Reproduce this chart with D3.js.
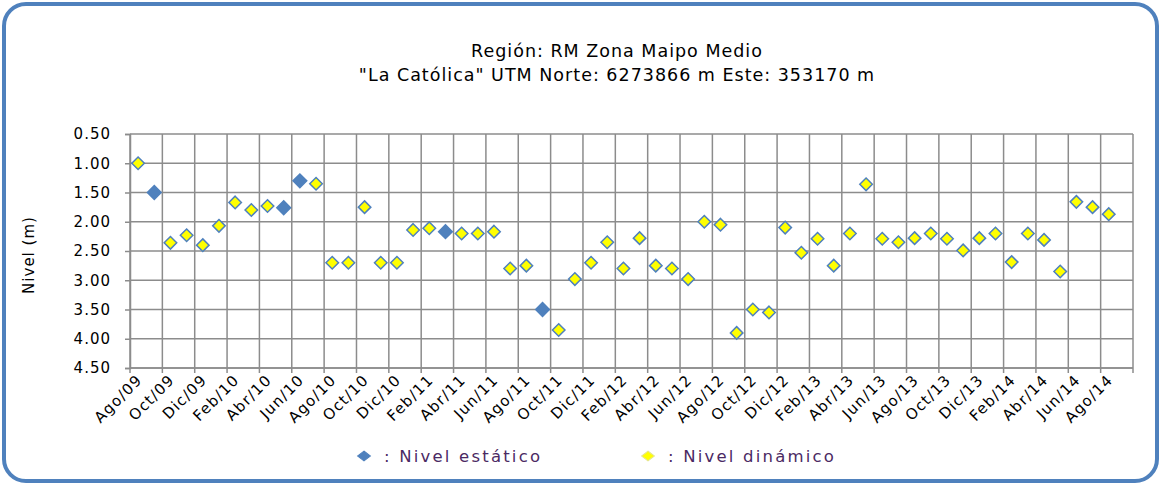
<!DOCTYPE html>
<html>
<head>
<meta charset="utf-8">
<script src="https://cdn.jsdelivr.net/npm/d3@7"></script>
<style>
  html, body { margin: 0; padding: 0; background: #fff; }
  svg { display: block; font-family: "DejaVu Sans", Verdana, sans-serif; }
</style>
</head>
<body>
<svg id="chart" width="1161" height="485"></svg>
<script>
// Monthly categories, Aug 2009 – Sep 2014
const monthNames = ["Ene","Feb","Mar","Abr","May","Jun","Jul","Ago","Sep","Oct","Nov","Dic"];
const months = [];
for (let y = 2009, m = 7; months.length < 62; ) {
  months.push(monthNames[m] + "/" + String(y).slice(2));
  m++; if (m === 12) { m = 0; y++; }
}

// Static level (m), one value per month, null where not measured
const nivelEstatico = [
  null, 1.50, null, null, null, null, null, null, null, 1.76,
  1.30, null, null, null, null, null, null, null, null, 2.17,
  null, null, null, null, null, 3.50, null, null, null, null,
  null, null, null, null, null, null, null, null, null, null,
  null, null, null, null, null, null, null, null, null, null,
  null, null, null, null, null, null, null, null, null, null,
  null, null
];

// Dynamic level (m), one value per month, null where not measured
const nivelDinamico = [
  1.00, null, 2.36, 2.23, 2.40, 2.07, 1.67, 1.80, 1.73, null,
  null, 1.35, 2.70, 2.70, 1.75, 2.70, 2.70, 2.14, 2.11, null,
  2.20, 2.20, 2.17, 2.80, 2.75, null, 3.85, 2.98, 2.70, 2.35,
  2.80, 2.28, 2.75, 2.80, 2.98, 2.00, 2.05, 3.90, 3.50, 3.55,
  2.10, 2.53, 2.29, 2.75, 2.20, 1.36, 2.29, 2.35, 2.28, 2.20,
  2.29, 2.49, 2.28, 2.20, 2.69, 2.20, 2.31, 2.85, 1.66, 1.75,
  1.87, null
];

const yTicks = [0.5, 1.0, 1.5, 2.0, 2.5, 3.0, 3.5, 4.0, 4.5];

const titleLines = [
  "Región: RM Zona Maipo Medio",
  "\"La Católica\" UTM Norte: 6273866 m Este: 353170 m"
];

const svg = d3.select("#chart");
const W = 1161, H = 485;
const plot = { left: 130, right: 1133, top: 134, bottom: 368 };

const blue = "#4f81bd";
const gridColor = "#8c8c8c";

// Outer rounded frame
svg.append("rect")
  .attr("x", 4).attr("y", 4)
  .attr("width", W - 8).attr("height", H - 8)
  .attr("rx", 22).attr("ry", 22)
  .attr("fill", "#fff")
  .attr("stroke", blue).attr("stroke-width", 4);

// Scales
const x = d3.scaleBand().domain(months).range([plot.left, plot.right]).paddingInner(0).paddingOuter(0);
const y = d3.scaleLinear().domain([0.5, 4.5]).range([plot.top, plot.bottom]);
const bw = x.bandwidth();
const cx = i => x(months[i]) + bw / 2;

// Horizontal grid
svg.append("g").selectAll("line")
  .data(yTicks).join("line")
  .attr("x1", plot.left).attr("x2", plot.right)
  .attr("y1", d => y(d)).attr("y2", d => y(d))
  .attr("stroke", gridColor).attr("stroke-width", 1.5);

// Vertical grid: every second month boundary plus the right edge
const vLines = months.filter((m, i) => i % 2 === 0).map(m => x(m)).concat([plot.right]);
svg.append("g").selectAll("line")
  .data(vLines).join("line")
  .attr("x1", d => d).attr("x2", d => d)
  .attr("y1", plot.top).attr("y2", plot.bottom + 5)
  .attr("stroke", gridColor).attr("stroke-width", 1.5);

// Y axis
const yAxis = d3.axisLeft(y).tickValues(yTicks).tickFormat(d3.format(".2f")).tickSize(5).tickPadding(14);
const gy = svg.append("g").attr("transform", `translate(${plot.left},0)`).call(yAxis);
gy.select(".domain").attr("stroke", gridColor).attr("stroke-width", 1.5);
gy.selectAll(".tick line").attr("stroke", gridColor).attr("stroke-width", 1.5);
gy.selectAll(".tick text").attr("font-size", 15).attr("fill", "#000")
  .attr("letter-spacing", 1)
  .attr("font-family", "'DejaVu Sans', Verdana, sans-serif");

// X axis line
svg.append("line")
  .attr("x1", plot.left).attr("x2", plot.right)
  .attr("y1", plot.bottom).attr("y2", plot.bottom)
  .attr("stroke", gridColor).attr("stroke-width", 1.5);

// X labels, every second month, rotated
svg.append("g").selectAll("text")
  .data(months.map((m, i) => ({ m, i })).filter(d => d.i % 2 === 0 && d.i <= 60))
  .join("text")
  .attr("transform", d => `translate(${cx(d.i) + 5},${plot.bottom + 13}) rotate(-45)`)
  .attr("text-anchor", "end")
  .attr("font-size", 15)
  .attr("letter-spacing", 1.2)
  .attr("fill", "#000")
  .text(d => d.m);

// Diamond marker
const diamond = d3.symbol().type(d3.symbolDiamond2).size(100);

// Dynamic level points
svg.append("g").selectAll("path")
  .data(nivelDinamico.map((v, i) => ({ v, i })).filter(d => d.v !== null))
  .join("path")
  .attr("d", diamond)
  .attr("transform", d => `translate(${cx(d.i)},${y(d.v)})`)
  .attr("fill", "#ffff00")
  .attr("stroke", blue).attr("stroke-width", 1.5);

// Static level points
svg.append("g").selectAll("path")
  .data(nivelEstatico.map((v, i) => ({ v, i })).filter(d => d.v !== null))
  .join("path")
  .attr("d", d3.symbol().type(d3.symbolDiamond2).size(120))
  .attr("transform", d => `translate(${cx(d.i)},${y(d.v)})`)
  .attr("fill", blue)
  .attr("stroke", blue).attr("stroke-width", 1.5);

// Title
svg.append("g").selectAll("text")
  .data(titleLines).join("text")
  .attr("x", 617).attr("y", (d, i) => 57 + i * 24)
  .attr("text-anchor", "middle")
  .attr("font-size", 17.5)
  .attr("letter-spacing", 1)
  .attr("fill", "#000")
  .text(d => d);

// Y axis title
svg.append("text")
  .attr("transform", `translate(34,${(plot.top + plot.bottom) / 2 + 4}) rotate(-90)`)
  .attr("text-anchor", "middle")
  .attr("font-size", 15)
  .attr("letter-spacing", 1)
  .attr("fill", "#000")
  .text("Nivel (m)");

// Legend
const legendItems = [
  { label: ": Nivel estático", fill: blue, x: 364 },
  { label: ": Nivel dinámico", fill: "#ffff00", x: 648 }
];
const lg = svg.append("g").selectAll("g").data(legendItems).join("g")
  .attr("transform", d => `translate(${d.x},456)`);
lg.append("path")
  .attr("d", d3.symbol().type(d3.symbolDiamond2).size(60))
  .attr("transform", "scale(1.3,1)")
  .attr("fill", d => d.fill)
  .attr("stroke", d => d.fill === blue ? blue : "#e6e68a").attr("stroke-width", 1);
lg.append("text")
  .attr("x", 20).attr("y", 6)
  .attr("font-size", 16.5)
  .attr("letter-spacing", 2.2)
  .attr("fill", "#4b2a63")
  .text(d => d.label);
</script>
</body>
</html>
